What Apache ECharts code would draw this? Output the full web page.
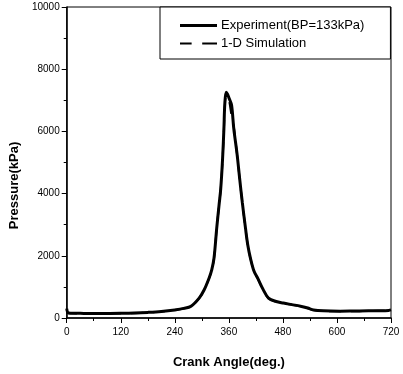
<!DOCTYPE html>
<html><head><meta charset="utf-8">
<script src="https://cdn.jsdelivr.net/npm/echarts@6/dist/echarts.min.js"></script>
<style>html,body{margin:0;padding:0;background:#fff}#c{width:403px;height:374px}</style>
</head><body><div id="c"></div>
<script>
var angles = [0,3,10,30,60,90,120,150,180,210,240,260,276,294,305,316,322,327,333,338,342,346,349,351,354,357,361,366,371,378,384,390,397,402,408,416,424,436,448,465,481,500,519,535,548,570,607,650,690,715,720];
var experiment = [300,170,155,150,145,145,150,160,180,210,260,310,380,640,900,1280,1550,1920,2880,3600,4160,5100,6080,6880,7260,7200,7050,6850,6080,5300,4480,3700,2880,2350,1920,1500,1280,920,640,530,480,430,380,320,260,230,220,225,235,245,260];
var simulation = [250,160,150,145,140,140,145,155,175,205,255,305,375,635,895,1270,1540,1910,2870,3590,4150,5080,6040,6800,7150,7120,6950,6500,6150,5280,4470,3690,2870,2340,1910,1490,1270,910,635,525,475,425,375,315,255,225,215,220,230,240,255];
var xTicks = [0,120,240,360,480,600,720];
var yTicks = [0,2000,4000,6000,8000,10000];
var names = ['Experiment(BP=133kPa)','1-D Simulation'];

function pairs(xs, ys){ return xs.map(function(x,i){return [x, ys[i]];}); }
var sans = '"Liberation Sans",Arial,sans-serif';
var chart = echarts.init(document.getElementById('c'), null, {renderer:'canvas'});
chart.setOption({
  animation:false,
  backgroundColor:'#fff',
  grid:{left:65,right:12,top:7,bottom:54,show:true,borderColor:'#000',borderWidth:1},
  legend:{
    left:160, top:7, orient:'vertical',
    data:[
      {name:names[0], icon:'rect'},
      {name:names[1], icon:'path://M0,0h11v2h-11zM21,0h14v2h-14z'}
    ],
    itemWidth:37, itemHeight:3, itemGap:5,
    padding:[12,26,9,20],
    borderColor:'#000', borderWidth:1, backgroundColor:'#fff',
    itemStyle:{color:'#000'},
    textStyle:{fontFamily:sans,fontSize:13,color:'#000',padding:[0,0,0,-1]}
  },
  xAxis:{
    type:'value', min:xTicks[0], max:xTicks[xTicks.length-1], interval:120,
    name:'Crank Angle(deg.)', nameLocation:'middle', nameGap:38,
    nameTextStyle:{fontFamily:sans,fontSize:13,fontWeight:'bold',color:'#000'},
    axisLine:{lineStyle:{color:'#000',width:1.5}},
    axisTick:{show:true,inside:false,length:5,lineStyle:{color:'#000'}},
    minorTick:{show:true,splitNumber:2,length:3,lineStyle:{color:'#000'}},
    axisLabel:{fontFamily:sans,fontSize:10,color:'#000',margin:9,
      formatter:function(v){return String(v);}},
    splitLine:{show:false}
  },
  yAxis:{
    type:'value', min:yTicks[0], max:yTicks[yTicks.length-1], interval:2000,
    name:'Pressure(kPa)', nameLocation:'middle', nameGap:38,
    nameTextStyle:{fontFamily:sans,fontSize:13,fontWeight:'bold',color:'#000',padding:[0,46,0,0]},
    axisLine:{show:true,lineStyle:{color:'#000',width:1.5}},
    axisTick:{show:true,inside:false,length:5,lineStyle:{color:'#000'}},
    minorTick:{show:true,splitNumber:2,length:3,lineStyle:{color:'#000'}},
    axisLabel:{fontFamily:sans,fontSize:10,color:'#000',margin:7,
      formatter:function(v){return String(v);}},
    splitLine:{show:false}
  },
  series:[
    {name:names[0],type:'line',data:pairs(angles,experiment),symbol:'none',smooth:0.35,
     lineStyle:{color:'#000',width:3},itemStyle:{color:'#000'},z:3},
    {name:names[1],type:'line',data:pairs(angles,simulation),symbol:'none',smooth:0.35,
     lineStyle:{color:'#000',width:2,type:[12,10]},itemStyle:{color:'#000'},z:2}
  ]
});
</script></body></html>
